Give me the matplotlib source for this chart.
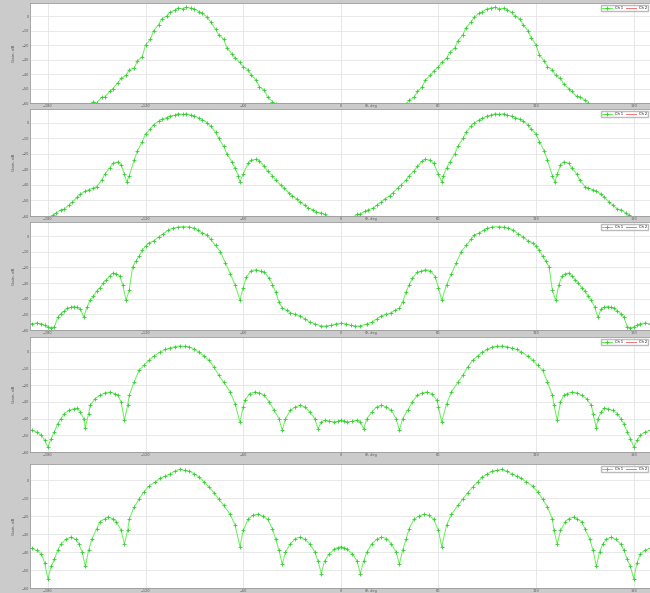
import matplotlib.pyplot as plt

# (angle deg, gain dB)
p1 = [(-190, -80), (-165, -72), (-160, -68), (-155, -62), (-152, -59), (-150, -60), (-147, -56), (-145, -56),
      (-142, -52), (-140, -50), (-137, -46), (-135, -43), (-132, -41), (-130, -37), (-127, -36), (-125, -31),
      (-122, -28), (-120, -20), (-117, -16), (-115, -10), (-112, -6), (-110, -2), (-107, 0), (-105, 2.5),
      (-102, 4), (-100, 5.5), (-97, 5), (-95, 6), (-92, 5.5), (-90, 5), (-87, 3), (-85, 2), (-82, -1),
      (-80, -4), (-77, -9), (-75, -13), (-72, -16), (-70, -22), (-67, -26), (-65, -29), (-62, -32),
      (-60, -35), (-57, -37), (-55, -41), (-52, -44), (-50, -49), (-47, -51), (-45, -56), (-42, -59),
      (-40, -61), (-30, -70), (-15, -76), (0, -77), (15, -76), (30, -70), (40, -61), (42, -58), (45, -56),
      (47, -52), (50, -49), (52, -44), (55, -41), (57, -38), (60, -35), (62, -32), (65, -29), (67, -25),
      (70, -22), (72, -17), (75, -13), (77, -8), (80, -4), (82, -1), (85, 2), (87, 3), (90, 5), (92, 5.5),
      (95, 6), (97, 5), (100, 5.5), (102, 4.5), (105, 2.5), (107, 0), (110, -2), (112, -6), (115, -10),
      (117, -15), (120, -20), (122, -27), (125, -31), (127, -35), (130, -37), (132, -41), (135, -43),
      (137, -47), (140, -50), (142, -52), (145, -55.5), (147, -56), (150, -58), (152, -60), (155, -62),
      (160, -68), (165, -72), (190, -80)]

p2 = [(-190, -72), (-185, -67), (-182, -63), (-180, -61), (-177, -59.5), (-175, -58), (-172, -56), (-170, -55.5),
      (-167, -53), (-165, -51), (-162, -48), (-160, -46), (-157, -44), (-155, -43), (-152, -42), (-150, -41),
      (-147, -37), (-145, -33), (-142, -29), (-140, -26), (-137, -25), (-135, -27), (-133, -33), (-131.5, -38),
      (-130, -34), (-127, -24), (-125, -18), (-122, -12), (-120, -7), (-117, -4), (-115, -1), (-112, 1),
      (-110, 2.5), (-107, 3.5), (-105, 4.5), (-102, 5), (-100, 6), (-97, 5.5), (-95, 6), (-92, 5), (-90, 4.5),
      (-87, 3), (-85, 2), (-82, 0), (-80, -2), (-77, -6), (-75, -10), (-72, -15), (-70, -20), (-67, -25),
      (-65, -29), (-63, -34), (-62, -38), (-60, -33), (-57, -26), (-55, -24), (-52, -23.5), (-50, -24.5),
      (-47, -28), (-45, -31), (-42, -34), (-40, -37), (-37, -40), (-35, -42), (-32, -45), (-30, -47),
      (-27, -49), (-25, -51), (-22, -53), (-20, -55), (-17, -56), (-15, -57.5), (-12, -58), (-10, -59),
      (-7, -61), (-5, -62), (0, -65), (5, -62), (7, -61), (10, -59), (12, -58.5), (15, -57), (17, -56),
      (20, -55), (22, -53), (25, -51), (27, -49), (30, -47), (32, -45), (35, -42), (37, -40), (40, -37),
      (42, -34), (45, -31), (47, -28), (50, -24.5), (52, -23.5), (55, -24), (57, -26), (60, -33), (62, -38),
      (63, -34), (65, -29), (67, -25), (70, -20), (72, -15), (75, -10), (77, -6), (80, -2), (82, 0), (85, 2),
      (87, 3), (90, 4.5), (92, 5), (95, 6), (97, 5.5), (100, 6), (102, 5), (105, 4.5), (107, 3.5), (110, 2.5),
      (112, 1), (115, -1), (117, -4), (120, -7), (122, -12), (125, -18), (127, -24), (130, -34), (131.5, -38),
      (133, -33), (135, -27), (137, -25), (140, -26), (142, -29), (145, -33), (147, -37), (150, -41),
      (152, -42), (155, -43), (157, -44), (160, -46), (162, -48), (165, -51), (167, -53), (170, -55.5),
      (172, -56), (175, -58), (177, -59.5), (180, -61), (182, -63), (185, -67), (190, -72)]

p3 = [(-190, -56), (-187, -55.5), (-184, -56), (-182, -57), (-180, -58), (-178, -58.5), (-176, -58), (-174, -52),
      (-172, -49.5), (-170, -48), (-168, -46), (-166, -45.5), (-164, -45), (-162, -45.5), (-160, -46.5),
      (-158, -52), (-156, -45.4), (-154, -41), (-152, -38.5), (-150, -35), (-148, -33), (-146, -30),
      (-144, -28), (-142, -25.5), (-140, -23.6), (-138, -24), (-136, -25.5), (-134, -31), (-132, -41),
      (-130, -34.5), (-128, -19.8), (-126, -16), (-124, -13), (-122, -9), (-120, -6.5), (-118, -4.5),
      (-115, -3), (-112, -0.6), (-109, 1.5), (-106, 3.8), (-103, 5), (-100, 5.8), (-97, 6), (-93, 5.8),
      (-90, 5), (-88, 3.8), (-85, 2), (-82, 0.6), (-80, -2), (-77, -6), (-74, -10), (-71, -17), (-68, -24),
      (-65, -31), (-62, -41), (-60, -33), (-58, -26), (-55, -22), (-52, -21.5), (-49, -22.5), (-47, -23),
      (-44, -27), (-42, -31), (-40, -36), (-38, -42), (-36, -46), (-33, -47.5), (-31, -49), (-28, -50),
      (-25, -51), (-22, -53), (-19, -55), (-16, -56), (-12, -57.5), (-9, -57.5), (-6, -57), (-3, -56),
      (0, -55.6), (3, -56), (6, -57), (9, -57.5), (12, -57.5), (16, -56), (19, -55), (22, -53), (25, -51),
      (28, -50), (31, -49), (33, -47.5), (36, -46), (38, -42), (40, -36), (42, -31), (44, -27), (47, -23),
      (49, -22.5), (52, -21.5), (55, -22), (58, -26), (60, -33), (62, -41), (65, -31), (68, -24), (71, -17),
      (74, -10), (77, -6), (80, -2), (82, 0.6), (85, 2), (88, 3.8), (90, 5), (93, 5.8), (97, 6), (100, 5.8),
      (103, 5), (106, 3.8), (109, 1.5), (112, -0.6), (115, -3), (118, -4.5), (120, -6.5), (122, -9),
      (124, -13), (126, -16), (128, -19.8), (130, -34.5), (132, -41), (134, -31), (136, -25.5), (138, -24),
      (140, -23.6), (142, -25.5), (144, -28), (146, -30), (148, -33), (150, -35), (152, -38.5), (154, -41),
      (156, -45.4), (158, -52), (160, -46.5), (162, -45.5), (164, -45), (166, -45.5), (168, -46), (170, -48),
      (172, -49.5), (174, -52), (176, -58), (178, -58.5), (180, -58), (182, -57), (184, -56), (187, -55.5),
      (190, -56)]

p4 = [(-190, -47), (-187, -48), (-184, -50), (-182, -53), (-180, -57), (-178, -52), (-176, -48), (-174, -43),
      (-172, -40), (-170, -37), (-167, -35), (-164, -34), (-162, -33.6), (-160, -36), (-158, -40),
      (-157, -45.6), (-155, -37), (-154, -32), (-151, -28), (-148, -26), (-145, -24.5), (-142, -24),
      (-139, -25), (-137, -26), (-135, -30), (-133, -41), (-131, -32), (-130, -26), (-127, -18), (-124, -11),
      (-121, -8), (-118, -5), (-115, -2.5), (-111, 0), (-108, 1.5), (-105, 2.4), (-102, 3.2), (-99, 3.6),
      (-96, 3.4), (-93, 3), (-90, 1.5), (-87, 0), (-84, -2.5), (-81, -5), (-78, -9), (-75, -14), (-72, -18),
      (-68, -24), (-65, -31), (-62, -42), (-60, -33), (-59, -29), (-56, -25), (-53, -24), (-50, -24.5),
      (-47, -26), (-44, -30), (-41, -35), (-38, -40), (-36, -47), (-34, -40), (-31, -35), (-28, -33),
      (-25, -32), (-22, -33), (-19, -36), (-16, -40), (-14, -46), (-12, -42), (-10, -41), (-7, -41.5),
      (-4, -42), (-2, -41.5), (0, -41), (2, -41.5), (4, -42), (7, -41.5), (10, -41), (12, -42), (14, -46),
      (16, -40), (19, -36), (22, -33), (25, -32), (28, -33), (31, -35), (34, -40), (36, -47), (38, -40),
      (41, -35), (44, -30), (47, -26), (50, -24.5), (53, -24), (56, -25), (59, -29), (60, -33), (62, -42),
      (65, -31), (68, -24), (72, -18), (75, -14), (78, -9), (81, -5), (84, -2.5), (87, 0), (90, 1.5), (93, 3),
      (96, 3.4), (99, 3.6), (102, 3.2), (105, 2.4), (108, 1.5), (111, 0), (115, -2.5), (118, -5), (121, -8),
      (124, -11), (127, -18), (130, -26), (131, -32), (133, -41), (135, -30), (137, -26), (139, -25),
      (142, -24), (145, -24.5), (148, -26), (151, -28), (154, -32), (155, -37), (157, -45.6), (158, -40),
      (160, -36), (162, -33.6), (164, -34), (167, -35), (170, -37), (172, -40), (174, -43), (176, -48),
      (178, -52), (180, -57), (182, -53), (184, -50), (187, -48), (190, -47)]

p5 = [(-190, -38), (-187, -39), (-184, -41), (-182, -46), (-180, -55), (-178, -48), (-176, -44), (-174, -39),
      (-172, -35.5), (-169, -33), (-166, -31.7), (-163, -33), (-161, -35.5), (-159, -40), (-157, -48),
      (-155, -39), (-153, -33), (-150, -27), (-148, -23), (-145, -21.5), (-143, -20.5), (-140, -21.5),
      (-138, -23), (-135, -28), (-133, -35.5), (-131, -28), (-130, -21.7), (-127, -15), (-124, -10.5),
      (-121, -6.5), (-118, -3.3), (-114, -1), (-111, 1), (-108, 2.2), (-105, 3.5), (-102, 5), (-99, 6),
      (-96, 5.5), (-93, 5), (-90, 3.5), (-87, 1.7), (-84, -1), (-81, -3.9), (-78, -7), (-75, -10.5),
      (-72, -14), (-68, -19), (-65, -25), (-62, -37), (-60, -28), (-57, -21.7), (-54, -19.5), (-51, -19),
      (-48, -20), (-45, -21.7), (-42, -27), (-40, -33), (-38, -39), (-36, -46.7), (-34, -40), (-31, -35.5),
      (-28, -32.5), (-25, -31.7), (-22, -33), (-19, -35.5), (-16, -40), (-14, -45), (-12, -52), (-10, -45),
      (-7, -41), (-4, -38.5), (-2, -37.5), (0, -37), (2, -37.5), (4, -38.5), (7, -41), (10, -45), (12, -52),
      (14, -45), (16, -40), (19, -35.5), (22, -33), (25, -31.7), (28, -32.5), (31, -35.5), (34, -40),
      (36, -46.7), (38, -39), (40, -33), (42, -27), (45, -21.7), (48, -20), (51, -19), (54, -19.5), (57, -21.7),
      (60, -28), (62, -37), (65, -25), (68, -19), (72, -14), (75, -10.5), (78, -7), (81, -3.9), (84, -1),
      (87, 1.7), (90, 3.5), (93, 5), (96, 5.5), (99, 6), (102, 5), (105, 3.5), (108, 2.2), (111, 1), (114, -1),
      (118, -3.3), (121, -6.5), (124, -10.5), (127, -15), (130, -21.7), (131, -28), (133, -35.5), (135, -28),
      (138, -23), (140, -21.5), (143, -20.5), (145, -21.5), (148, -23), (150, -27), (153, -33), (155, -39),
      (157, -48), (159, -40), (161, -35.5), (163, -33), (166, -31.7), (169, -33), (172, -35.5), (174, -39),
      (176, -44), (178, -48), (180, -55), (182, -46), (184, -41), (187, -39), (190, -38)]

panels = [p1, p2, p3, p4, p5]
xticks = [-180, -120, -60, 0, 60, 120, 180]
yticks = [0, -10, -20, -30, -40, -50, -60]

# axes boxes in pixels (top, bottom) of a 650x593 picture
rows = [(3, 103), (109, 216), (222, 330), (337, 452), (464, 588)]

fig = plt.figure(figsize=(6.5, 5.93), dpi=100, facecolor='#cbcbcb')
W, H = 650.0, 593.0
for pts, (top, bot) in zip(panels, rows):
    x = [p[0] for p in pts]
    y = [p[1] for p in pts]
    ax = fig.add_axes([30 / W, 1 - bot / H, 620 / W, (bot - top) / H])
    ax.set_facecolor('white')
    ax.plot(x, y, color='#66f055', lw=0.7, marker='+', ms=3, mew=0.6, mec='#33cc33', label='Ch 1')
    ax.plot([], [], color='#ee7777', lw=0.7, label='Ch 2')
    ax.set_xlim(-191, 190)
    ax.set_ylim(-60, 9)
    ax.set_xticks(xticks)
    ax.set_yticks(yticks)
    ax.tick_params(labelsize=2.5, length=0, colors='#555555', pad=1)
    ax.grid(True, color='#e4e4e4', lw=0.6)
    for s in ax.spines.values():
        s.set_color('#999999')
        s.set_linewidth(0.6)
    ax.set_ylabel('Gain, dB', fontsize=3, color='#555555', labelpad=4)
    ax.set_xlabel('\u03a6, deg', fontsize=2.5, color='#555555', labelpad=-3, x=0.55)
    ax.legend(loc='upper right', fontsize=2.5, ncol=2, handlelength=3, borderpad=0.3,
              columnspacing=0.8, frameon=True, fancybox=False, edgecolor='#aaaaaa')

fig.savefig('out.png', dpi=100, facecolor=fig.get_facecolor())
